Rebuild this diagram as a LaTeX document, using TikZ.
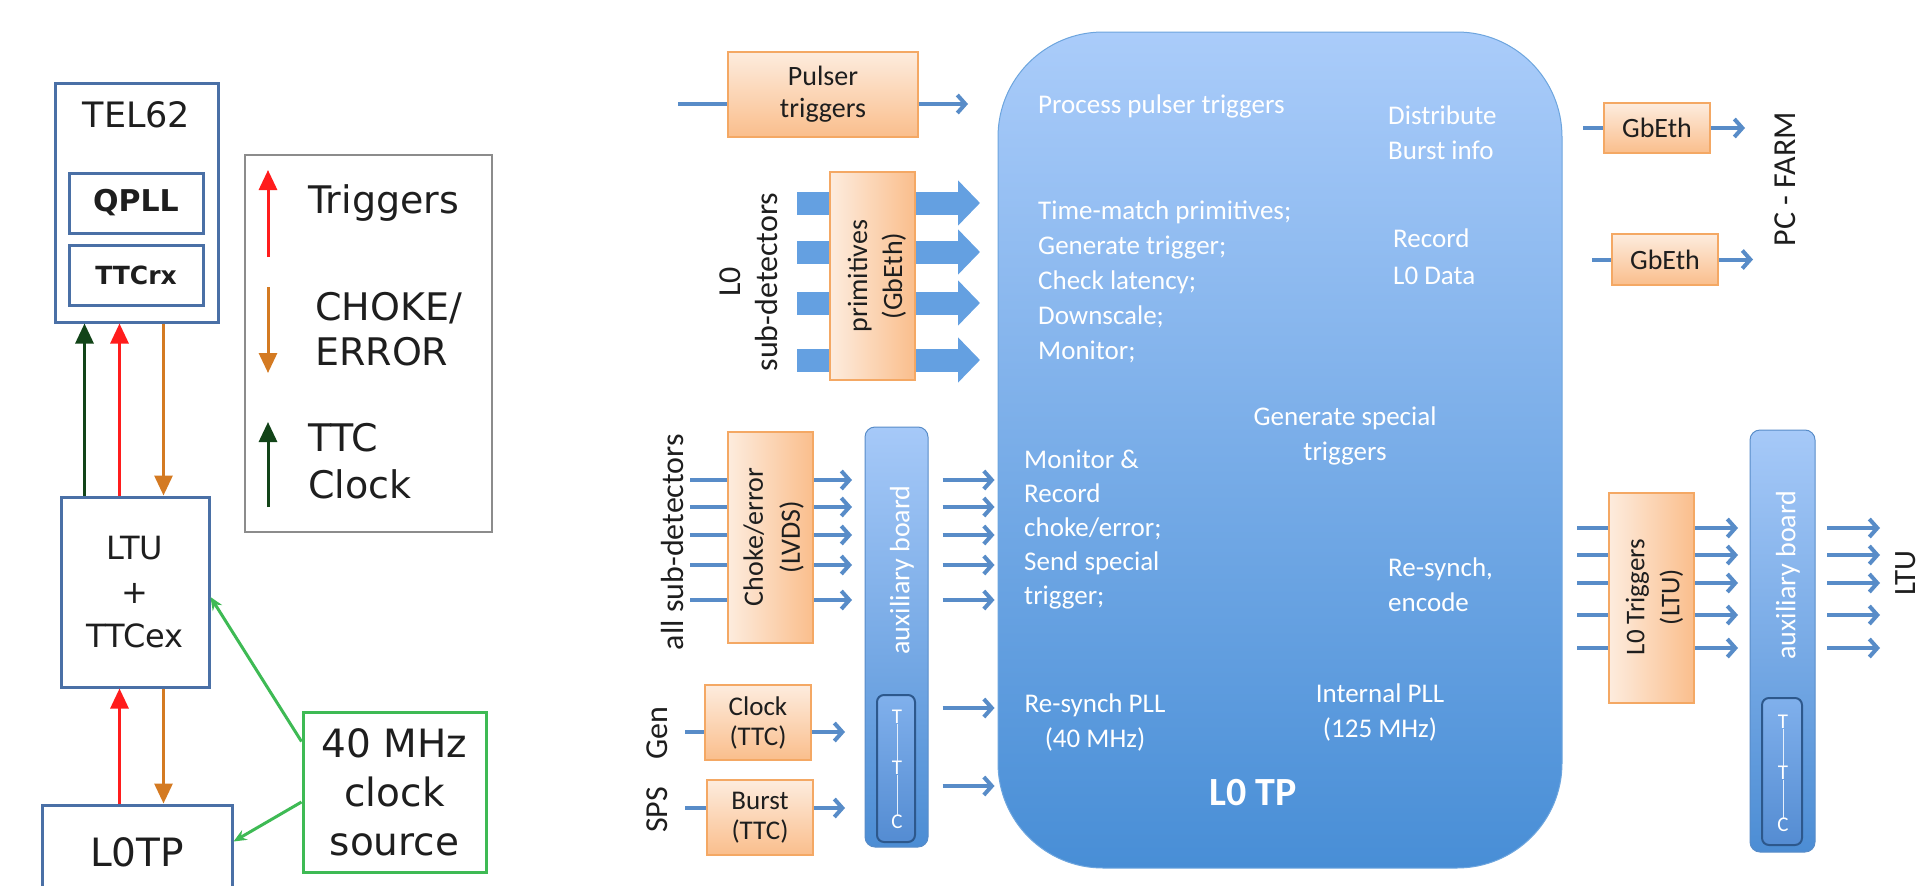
\documentclass[tikz,border=0pt]{standalone}
\usepackage{fontspec}
\setmainfont{Carlito}
\newfontfamily\dvs{DejaVu Sans}
\usetikzlibrary{arrows.meta,calc}
\newcommand\setfs[2]{\fontsize{#1}{#2}\selectfont}
\definecolor{lblue}{RGB}{74,112,166}
\definecolor{lgray}{RGB}{140,140,140}
\definecolor{tred}{RGB}{255,28,28}
\definecolor{tora}{RGB}{212,122,34}
\definecolor{tgrn}{RGB}{18,68,24}
\definecolor{cgrn}{RGB}{62,186,84}
\definecolor{arrblue}{RGB}{88,140,200}
\definecolor{fatblue}{RGB}{100,160,225}
\definecolor{bigtop}{RGB}{170,204,250}
\definecolor{bigbot}{RGB}{72,142,214}
\definecolor{auxtop}{RGB}{166,201,248}
\definecolor{auxbot}{RGB}{76,141,212}
\definecolor{ttctop}{RGB}{128,176,236}
\definecolor{ttcbot}{RGB}{84,140,210}
\definecolor{ttcdraw}{RGB}{45,88,140}
\definecolor{oralight}{RGB}{253,236,222}
\definecolor{oradark}{RGB}{250,190,140}
\definecolor{oradraw}{RGB}{244,168,100}
\definecolor{txt}{RGB}{30,30,30}
\tikzset{
  lbox/.style={draw=lblue, line width=3pt, fill=white, inner sep=0pt, text=txt},
  gbox/.style={draw=lgray, line width=2.5pt, fill=white, inner sep=0pt},
  cbox/.style={draw=cgrn, line width=3pt, fill=white, inner sep=0pt, align=center, text=txt},
  dvtext/.style={inner sep=0pt, text=txt, font=\dvs\setfs{38}{46}, align=left},
  ltrig/.style={tred, line width=3pt, -{Triangle[length=20pt,width=18pt]}},
  lchoke/.style={tora, line width=3pt, -{Triangle[length=20pt,width=18pt]}},
  lclock/.style={tgrn, line width=3pt, -{Triangle[length=20pt,width=18pt]}},
  greenarr/.style={cgrn, line width=3pt, -{Stealth[length=13pt,width=11pt]}},
  obox/.style={draw=oradraw, line width=1.5pt, inner sep=0pt, align=center, text=txt,
     font=\setfs{28}{32}},
  ohbox/.style={obox, top color=oralight, bottom color=oradark},
  ovbox/.style={obox, left color=oralight, right color=oradark},
  barr/.style={arrblue, line width=4pt, -{Straight Barb[length=8pt,width=18pt]}},
  bline/.style={arrblue, line width=4pt},
  fatarr/.style={fatblue, line width=23pt, -{Triangle[length=22pt,width=44pt]}},
  auxbox/.style={draw=arrblue, line width=1pt, rounded corners=10pt, top color=auxtop,
     bottom color=auxbot, inner sep=0pt},
  ttcbox/.style={draw=ttcdraw, line width=2pt, rounded corners=7pt, top color=ttctop,
     bottom color=ttcbot, inner sep=0pt},
  ttcl/.style={text=white, font=\setfs{21}{24}, inner sep=0pt},
  wtext/.style={text=white, inner sep=0pt, font=\setfs{27}{35}},
  otext/.style={text=txt, inner sep=0pt, font=\setfs{32}{37}, align=center},
  olabel/.style={text=txt, inner sep=0pt, font=\setfs{32}{37}},
}
\begin{document}
\begin{tikzpicture}[x=1pt,y=-1pt]
\useasboundingbox (0,0) rectangle (1922,886);
\clip (0,0) rectangle (1922,886);

% ================= LEFT PANEL =================
\node[lbox, minimum width=163pt, minimum height=239pt] (tel) at (136.5,202.5) {};
\node[dvtext, font=\dvs\setfs{35}{40}] (telT) at (136.5,115) {TEL62};
\node[lbox, minimum width=134pt, minimum height=60pt, font=\dvs\bfseries\setfs{30}{34}] (qpll) at (136,203) {QPLL};
\node[lbox, minimum width=134pt, minimum height=60pt, font=\dvs\bfseries\setfs{25}{30}] (ttcrx) at (136,275) {TTCrx};

\node[lbox, minimum width=148pt, minimum height=190pt, align=center, font=\dvs\setfs{32}{44}] (ltu) at (135,592) {LTU\\+\\TTCex};
\node[lbox, minimum width=190pt, minimum height=120pt, font=\dvs\setfs{39}{44}] (lotp) at (137,865) {};
\node[dvtext, font=\dvs\setfs{39}{44}] (lotpT) at (137,852) {L0TP};

\node[cbox, minimum width=183pt, minimum height=160pt, font=\dvs\setfs{39}{49}] (clk) at (394.5,792) {40 MHz\\clock\\source};

% arrows TEL62 <-> LTU
\draw[lclock] (ltu.north west) ++(25,0) coordinate (g1) -- (g1 |- tel.south);
\draw[ltrig] (ltu.north west) ++(60,0) coordinate (r1) -- (r1 |- tel.south);
\draw[lchoke] (tel.south west) ++(110,0) coordinate (o1) -- (o1 |- ltu.north);
% arrows LTU <-> L0TP
\draw[ltrig] (lotp.north west) ++(79,0) coordinate (r2) -- (r2 |- ltu.south);
\draw[lchoke] (ltu.south west) ++(104,0) coordinate (o2) -- (o2 |- lotp.north);
% clock source arrows
\draw[greenarr] ($(clk.north west)+(0,31)$) -- ($(ltu.east)+(0,5)$);
\draw[greenarr] ($(clk.west)+(0,10)$) -- ($(lotp.north east)+(0,38)$);

% legend
\node[gbox, minimum width=247pt, minimum height=377pt] (leg) at (368.5,343.5) {};
\coordinate (lr1) at (268,257); \coordinate (lr2) at (268,170);
\draw[ltrig] (lr1) -- (lr2);
\coordinate (lo1) at (268,287); \coordinate (lo2) at (268,373);
\draw[lchoke] (lo1) -- (lo2);
\coordinate (lg1) at (268,507); \coordinate (lg2) at (268,422);
\draw[lclock] (lg1) -- (lg2);
\node[dvtext, anchor=west] (legT) at (308,203) {Triggers};
\node[dvtext, anchor=west, font=\dvs\setfs{38}{45}] (legC) at (315,329.5) {CHOKE/\\ERROR};
\node[dvtext, anchor=west, font=\dvs\setfs{38}{47}] (legK) at (308,461.5) {TTC\\Clock};

% ================= RIGHT PANEL =================
% big L0 TP block
\node[draw=bigbot!80!white, line width=1pt, rounded corners=105pt, top color=bigtop, bottom color=bigbot,
      minimum width=564pt, minimum height=836pt, inner sep=0pt] (big) at (1280,450) {};

% pulser triggers
\node[ohbox, minimum width=190pt, minimum height=85pt] (puls) at (823,94.5) {Pulser\\triggers};
\coordinate (pin) at (678,104);
\coordinate (pout) at (968,104);
\draw[bline] (pin) -- (pin -| puls.west);
\draw[barr] (puls.east |- pin) -- (pout);

% L0 sub-detectors, primitives
\node[otext, rotate=90] (l0sd) at (748.5,282) {L0\\sub-detectors};
\foreach \y/\n in {203/1,252/2,303/3,360/4}{
  \coordinate (fa\n) at (797,\y);
  \coordinate (fb\n) at (980,\y);
  \draw[fatarr] (fa\n) -- (fb\n);
}
\node[ovbox, minimum width=85pt, minimum height=208pt] (prim) at (872.5,276) {};
\node[text=txt, inner sep=0pt, font=\setfs{28}{35}, align=center, rotate=90] (primT) at (877,276) {primitives\\(GbEth)};

% all sub-detectors, choke/error
\node[olabel, rotate=90] (allsd) at (672,542) {all sub-detectors};
\foreach \y/\n in {480/1,507/2,535/3,565/4,600/5}{
  \coordinate (ca\n) at (690,\y);
  \coordinate (cb\n) at (852,\y);
  \draw[barr] (ca\n) -- (cb\n);
}
\node[ovbox, minimum width=85pt, minimum height=211pt] (choke) at (770.5,537.5) {};
\node[text=txt, inner sep=0pt, font=\setfs{28}{37}, align=center, rotate=90] (chokeT) at (773.5,537) {Choke/error\\(LVDS)};

% clock / burst
\node[ohbox, minimum width=106pt, minimum height=75pt, font=\setfs{27}{30}] (clock) at (758,722.5) {Clock\\(TTC)};
\node[ohbox, minimum width=106pt, minimum height=75pt, font=\setfs{27}{30}] (burst) at (760,817.5) {Burst\\(TTC)};
\node[olabel, rotate=90] (gen) at (657,733) {Gen};
\node[olabel, rotate=90] (sps) at (657,810) {SPS};
\coordinate (cin) at (685,732); \coordinate (cout) at (845,732);
\coordinate (bin) at (685,808); \coordinate (bout) at (845,808);
\draw[bline] (cin) -- (cin -| clock.west);
\draw[barr] (clock.east |- cin) -- (cout);
\draw[bline] (bin) -- (bin -| burst.west);
\draw[barr] (burst.east |- bin) -- (bout);

% auxiliary board (left)
\node[auxbox, minimum width=63pt, minimum height=420pt] (aux1) at (896.5,637) {};
\node[text=white, inner sep=0pt, font=\setfs{28}{32}, rotate=90] (aux1T) at (902,570) {auxiliary board};
\node[ttcbox, minimum width=38pt, minimum height=147pt] (ttc1) at (896,768.5) {};
\node[ttcl] (t1a) at (897,717) {T};
\node[ttcl] (t1b) at (897,768) {T};
\node[ttcl] (t1c) at (897,822) {C};
\draw[white!80!ttctop, line width=0.8pt] (t1a.south) -- (t1b.north) (t1b.south) -- (t1c.north);

% arrows aux1 -> big
\foreach \y in {480,507,535,565,600,708,786}{
  \draw[barr] ($(aux1.east |- 0,\y)+(14,0)$) -- ($(big.west |- 0,\y)+(-3,0)$);
}

% texts in big block
\node[wtext, anchor=west] (tpp) at (1038,106) {Process pulser triggers};
\node[wtext, anchor=west, align=left] (tdist) at (1388,132.5) {Distribute\\Burst info};
\node[wtext, anchor=west, align=left] (ttime) at (1038,282) {Time-match primitives;\\Generate trigger;\\Check latency;\\Downscale;\\Monitor;};
\node[wtext, anchor=west, align=left, font=\setfs{27}{37}] (trec) at (1393,256.5) {Record\\L0 Data};
\node[wtext, align=center] (tgen) at (1345,435.5) {Generate special\\triggers};
\node[wtext, anchor=west, align=left, font=\setfs{27}{34}] (tmon) at (1024,530) {Monitor \&\\Record\\choke/error;\\Send special\\trigger;};
\node[wtext, anchor=west, align=left] (tres) at (1388,584.5) {Re-synch,\\encode};
\node[wtext, align=center] (tpll) at (1095,722.5) {Re-synch PLL\\(40 MHz)};
\node[wtext, align=center] (tint) at (1380,712.5) {Internal PLL\\(125 MHz)};
\node[text=white, inner sep=0pt, font=\bfseries\setfs{40}{44}] (tl0) at (1253,793) {L0 TP};

% GbEth -> PC farm
\node[ohbox, minimum width=106pt, minimum height=50pt] (gb1) at (1657,128) {GbEth};
\node[ohbox, minimum width=106pt, minimum height=51pt] (gb2) at (1665,259.5) {GbEth};
\coordinate (g1in) at (1583,128); \coordinate (g1out) at (1745,128);
\coordinate (g2in) at (1592,259.5); \coordinate (g2out) at (1753,259.5);
\draw[bline] (g1in) -- (gb1.west);
\draw[barr] (gb1.east) -- (g1out);
\draw[bline] (g2in) -- (gb2.west);
\draw[barr] (gb2.east) -- (g2out);
\node[olabel, rotate=90] (pcf) at (1785,179) {PC - FARM};

% L0 triggers (LTU)
\foreach \y/\n in {528/1,555/2,583/3,615/4,648/5}{
  \coordinate (la\n) at (1577,\y);
  \coordinate (lb\n) at (1738,\y);
  \draw[barr] (la\n) -- (lb\n);
}
\node[ovbox, minimum width=85pt, minimum height=210pt] (l0trig) at (1651.5,598) {};
\node[text=txt, inner sep=0pt, font=\setfs{27}{35}, align=center, rotate=90] (l0trigT) at (1654.5,597) {L0 Triggers\\(LTU)};

% auxiliary board (right)
\node[auxbox, minimum width=65pt, minimum height=422pt] (aux2) at (1782.5,641) {};
\node[text=white, inner sep=0pt, font=\setfs{28}{32}, rotate=90] (aux2T) at (1788,575) {auxiliary board};
\node[ttcbox, minimum width=40pt, minimum height=147pt] (ttc2) at (1782,771.5) {};
\node[ttcl] (t2a) at (1783,722) {T};
\node[ttcl] (t2b) at (1783,773) {T};
\node[ttcl] (t2c) at (1783,825) {C};
\draw[white!80!ttctop, line width=0.8pt] (t2a.south) -- (t2b.north) (t2b.south) -- (t2c.north);

\foreach \y/\n in {528/1,555/2,583/3,615/4,648/5}{
  \coordinate (ra\n) at (1827,\y);
  \coordinate (rb\n) at (1880,\y);
  \draw[barr] (ra\n) -- (rb\n);
}
\node[olabel, rotate=90, font=\setfs{31}{36}] (ltuT) at (1906,573) {LTU};
\end{tikzpicture}
\end{document}
